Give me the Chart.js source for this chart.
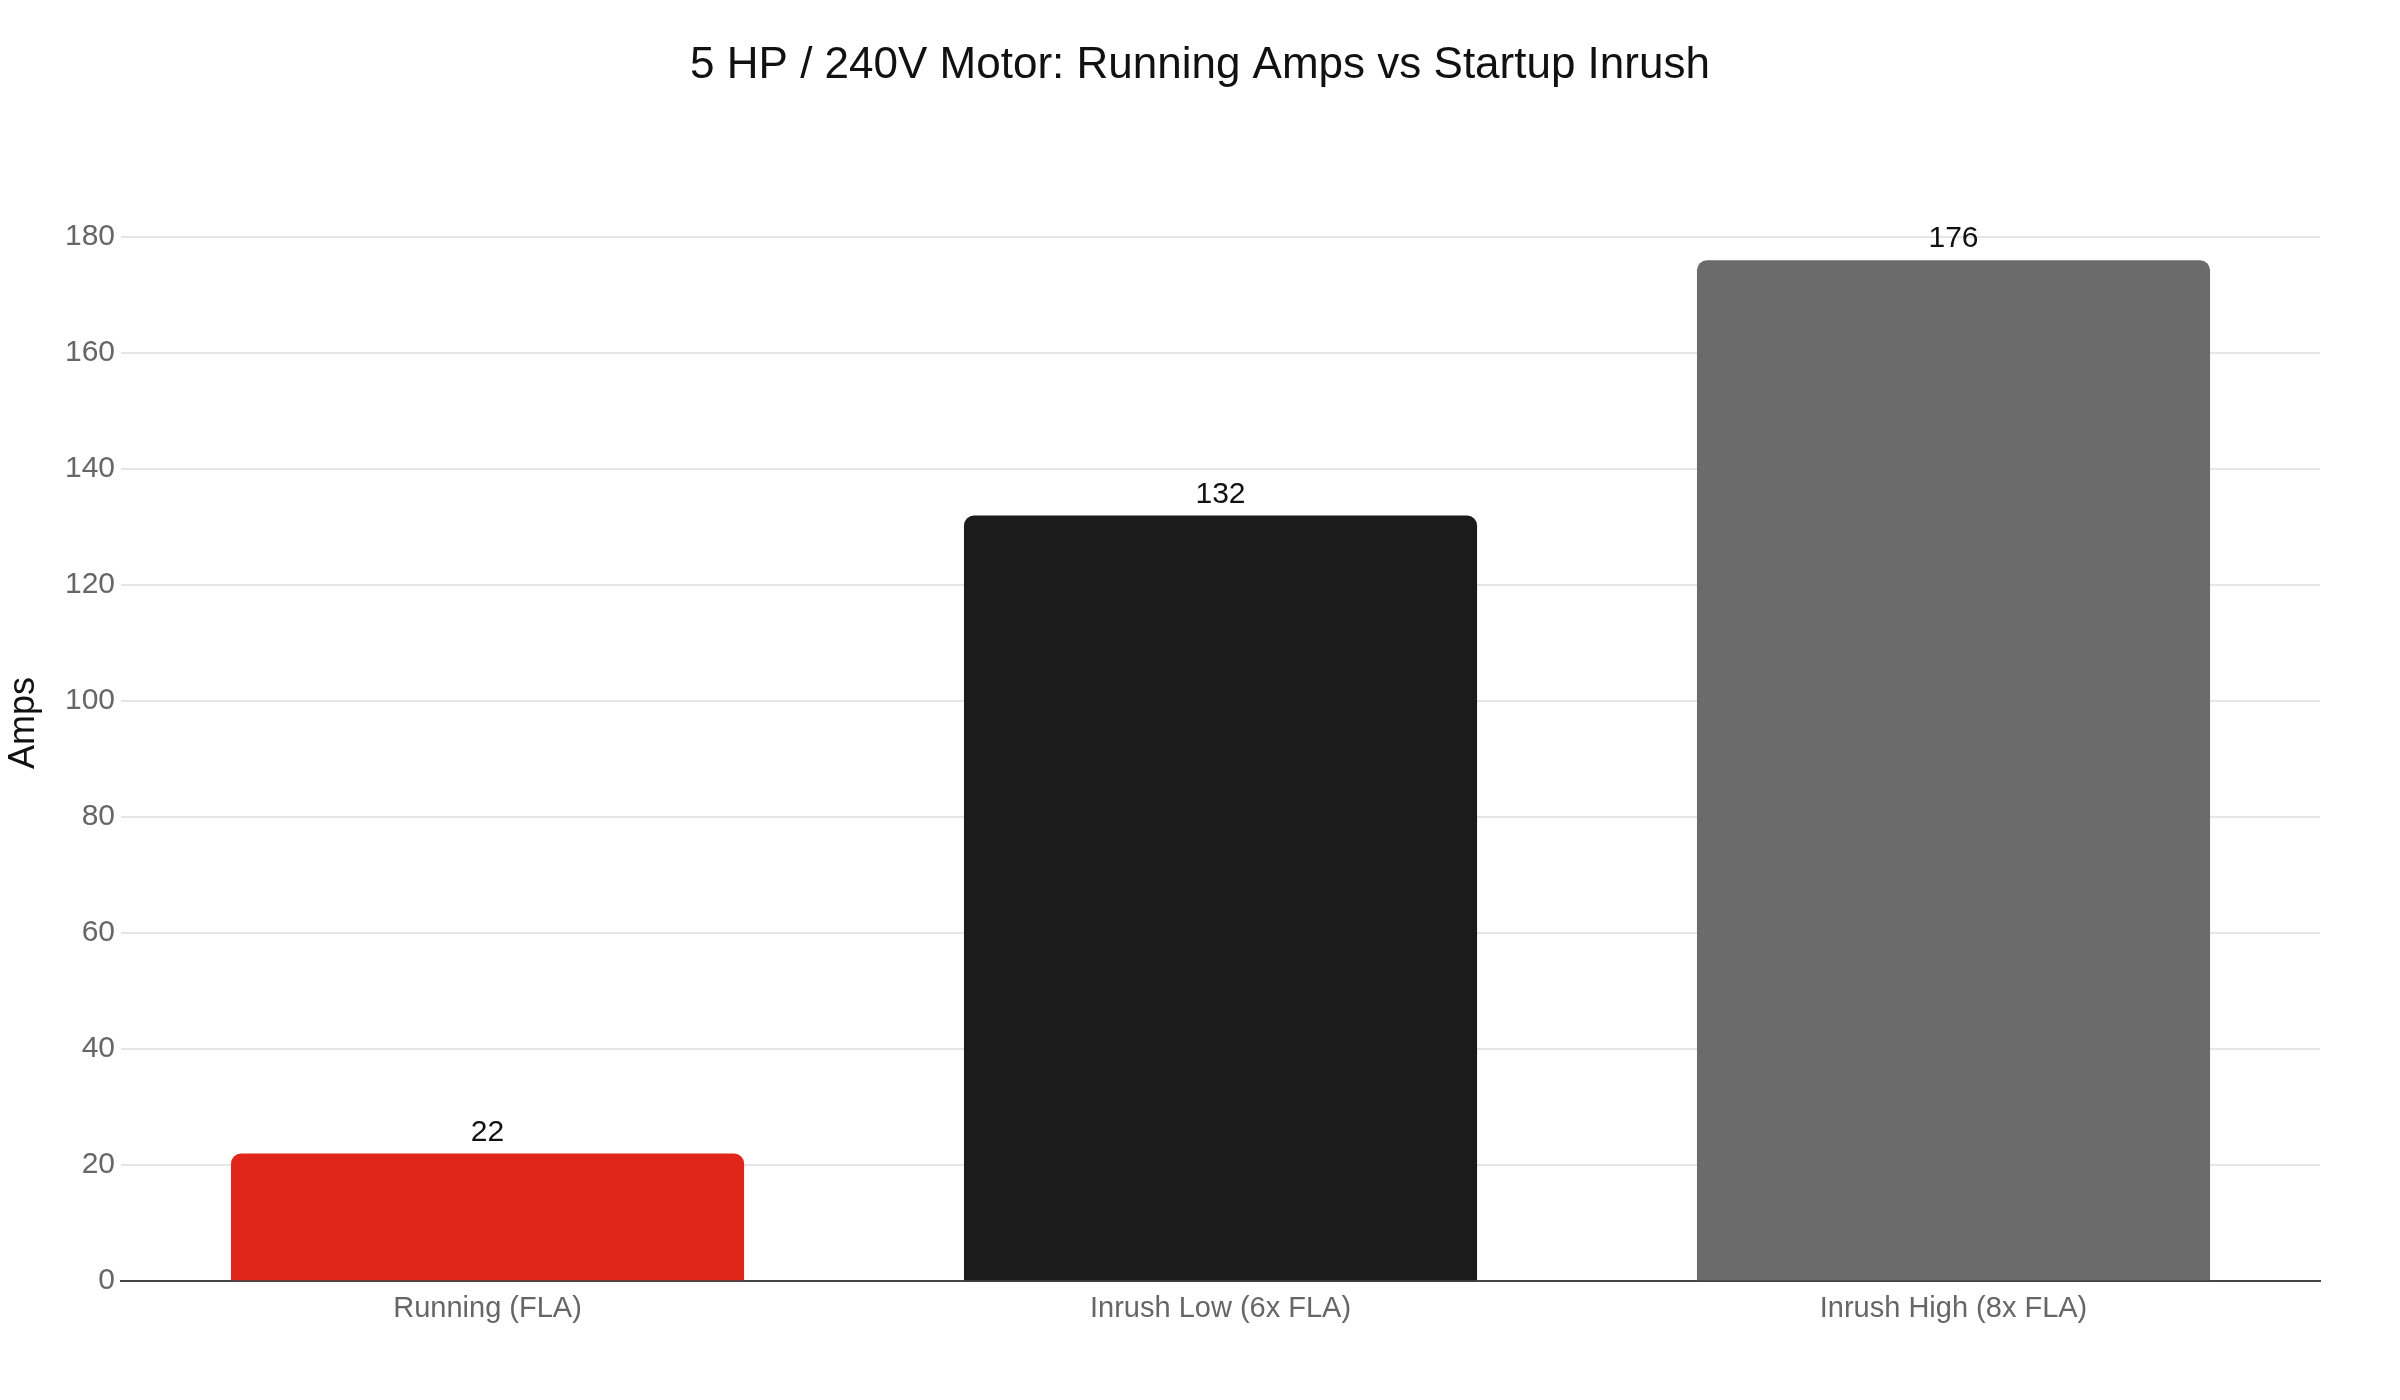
<!DOCTYPE html>
<html>
<head>
<meta charset="utf-8">
<script src="https://cdn.jsdelivr.net/npm/chart.js@4"></script>
<style>
  html, body { margin: 0; padding: 0; background: #fff; }
  canvas { display: block; }
</style>
</head>
<body>
<canvas id="myChart" width="2400" height="1400"></canvas>
<script>
// data
const categories = ['Running (FLA)', 'Inrush Low (6x FLA)', 'Inrush High (8x FLA)'];
const amps = [22, 132, 176];
const barColors = ['#e0251b', '#1b1b1b', '#6b6b6b'];
const yTicks = [0, 20, 40, 60, 80, 100, 120, 140, 160, 180];

const chartTitle = '5 HP / 240V Motor: Running Amps vs Startup Inrush';
const yTitle = 'Amps';
const FONT = '"Liberation Sans", Arial, Helvetica, sans-serif';

Chart.defaults.font.family = FONT;

// labels above each bar, plus the page title and the y axis title
const decorations = {
    id: 'decorations',
    afterDatasetsDraw(chart) {
        const ctx = chart.ctx;
        const meta = chart.getDatasetMeta(0);
        ctx.save();
        ctx.font = '30px ' + FONT;
        ctx.fillStyle = '#111';
        ctx.textAlign = 'center';
        ctx.textBaseline = 'bottom';
        meta.data.forEach((bar, i) => {
            ctx.fillText(String(amps[i]), bar.x, bar.y - 6);
        });

        // title centred on the whole canvas
        ctx.font = '44px ' + FONT;
        ctx.textBaseline = 'middle';
        ctx.fillText(chartTitle, chart.width / 2, 66);

        // y axis title, a bit above the middle of the plot like the original
        ctx.translate(24, 723);
        ctx.rotate(-Math.PI / 2);
        ctx.font = '36px ' + FONT;
        ctx.fillText(yTitle, 0, 0);
        ctx.restore();
    }
};

const ctx = document.getElementById('myChart').getContext('2d');

var myChart = new Chart(ctx, {
    type: 'bar',
    data: {
        labels: categories,
        datasets: [{
            label: 'Amps',
            data: amps,
            backgroundColor: barColors,
            borderWidth: 0,
            borderRadius: 10,
            barPercentage: 0.7,
            categoryPercentage: 1.0
        }]
    },
    options: {
        responsive: false,
        devicePixelRatio: 1,
        animation: false,
        layout: {
            padding: { left: 59, right: 80, top: 237, bottom: 64 }
        },
        plugins: {
            legend: { display: false },
            tooltip: { enabled: false },
            title: { display: false }
        },
        scales: {
            x: {
                grid: { display: false, drawTicks: false },
                border: { display: true, color: '#444', width: 2 },
                ticks: {
                    color: '#666',
                    font: { size: 29 },
                    padding: 10
                }
            },
            y: {
                min: 0,
                max: 180,
                afterBuildTicks(axis) {
                    axis.ticks = yTicks.map(v => ({ value: v }));
                },
                grid: { color: '#e6e6e6', lineWidth: 2, drawTicks: false },
                border: { display: false },
                ticks: {
                    color: '#666',
                    font: { size: 30 },
                    padding: 6
                }
            }
        }
    },
    plugins: [decorations]
});
</script>
</body>
</html>
